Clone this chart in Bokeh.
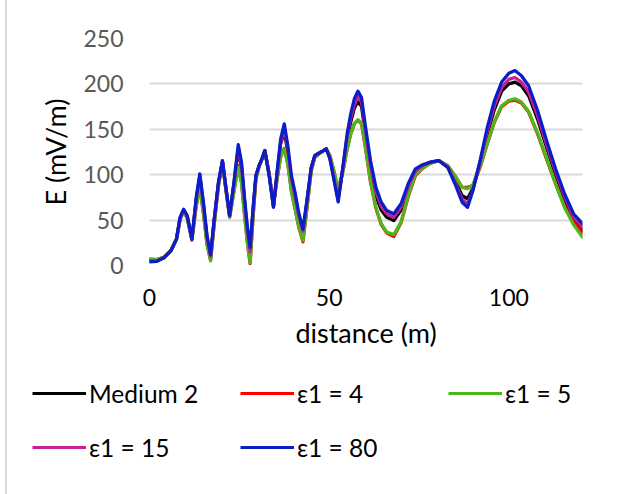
from bokeh.plotting import figure
from bokeh.models import Range1d, FixedTicker, Legend, LegendItem, Spacer
from bokeh.layouts import row, column
from bokeh.embed import file_html
from bokeh.resources import INLINE

# ---------------- data ----------------
distance = [0, 2, 4, 6, 7.5, 8.5, 9.5, 10.5, 11.8, 13, 14, 15, 16, 17, 18, 19.2, 20.3, 21.3,
            22.3, 23.5, 24.7, 25.6, 26.4, 27.2, 28, 28.8, 29.6, 30.5, 31.3, 32.1, 33.3, 34.5,
            35.5, 36.5, 37.5, 38.5, 39.5, 40.5, 41.5, 42.7, 43.8, 45, 46, 47.2, 48.2, 49.2,
            50.2, 51.2, 52.5, 53.8, 55, 56, 57, 58, 59, 60, 61.5, 63, 64.5, 66, 68, 70, 72,
            74, 76, 78, 80.5, 83, 85, 87, 88.5, 90, 92, 94, 96, 98, 100, 101.7, 103.5, 105.5,
            108, 110.5, 113, 115.5, 118, 120.5]

eps80 = [4, 4.5, 8.5, 16.5, 29, 53, 62, 55, 29, 75, 101, 70, 33, 12, 51, 92, 115.6, 84.5,
         55, 92, 133, 114, 77, 44, 20, 62, 99, 110, 117.5, 126.7, 99, 64,
         103, 139.5, 156, 132, 99, 80.7, 58.7, 40, 71.6, 108, 121, 123.7, 126, 128.5,
         117.5, 97, 70, 108, 145, 167, 183.6, 192, 185, 156, 115.6, 86, 69.7, 60.6, 57, 68, 90,
         106.5, 111, 113.8, 115.6, 108, 90, 69.7, 64, 82.6, 115.6, 152, 181.7, 202, 211.7, 214.7, 209, 198,
         170.7, 137.7, 106.5, 79, 57, 46]

eps15 = [5, 5, 8.5, 16.5, 29, 52, 61, 54, 29, 73, 99, 68, 31, 10, 50, 91, 115, 84,
         55, 90, 130, 110, 73, 40, 15, 60, 98, 110, 117.5, 126.5, 100, 65,
         101, 136, 150.5, 128, 95, 77, 56, 38, 70, 107, 121, 124, 126, 128.5,
         118, 99, 72, 107, 142, 162, 177, 186, 180, 151, 110, 81, 65, 57, 53, 64, 87,
         104, 110, 113.5, 115.6, 108.5, 92, 73, 68, 83, 114, 148, 176, 196, 205, 207, 202, 191,
         165, 133, 103, 76, 54, 42]

medium2 = [5, 5, 8.5, 16.5, 29, 52, 61, 54, 29, 72, 97, 66, 30, 9, 49, 91, 115, 84,
           55, 89, 128, 108, 71, 38, 14, 59, 98, 110, 117.5, 126.5, 100, 65,
           100, 134, 147, 125, 92, 74, 54, 36, 69, 107, 121, 124, 126, 128.5,
           119, 101, 74, 106, 139, 158, 173, 181, 175, 147, 106, 77, 61, 53, 49.5, 61, 85,
           103, 109, 113, 115.6, 109, 94, 77, 73.5, 85, 113, 145, 172, 192, 200, 202, 198, 187,
           161, 130, 100, 73, 52, 38.5]

eps4 = [7, 6.5, 9, 17, 29, 50, 60, 52, 28, 65, 87, 58, 24, 6, 45, 88, 113, 82,
        53, 82, 110, 92, 58, 27, 2, 52, 95, 109, 117, 126, 101, 67,
        95, 120, 129, 112, 82, 63, 43, 26, 62, 104, 119, 123, 126, 128,
        121, 106, 83, 103, 128, 145, 156, 160, 156, 132, 92, 63, 45, 36, 32, 47, 76,
        99, 107, 112.5, 115.5, 110, 99, 86, 86, 88, 108, 134, 158, 175, 181, 182, 179, 169,
        145, 117, 90, 65, 48, 35.6]

eps5 = [7, 6.5, 9, 17, 29, 50, 60, 52, 29, 66, 86, 57, 23, 5, 45, 88, 113, 82,
        53, 81, 108, 90, 57, 26, 3, 52, 95, 109, 117, 126, 101, 67,
        95, 119, 128.5, 111, 81, 62, 44, 27.5, 63, 104, 119, 123, 126, 128,
        121, 106, 84.5, 103, 128, 145, 156, 160.5, 157, 133, 93, 64, 46, 37, 34, 48, 77,
        100, 107, 112.5, 115.5, 110, 99, 86, 84.5, 89, 109, 134, 159, 176, 182, 183.6, 180, 170,
        146, 118, 90, 64, 45, 31]

series_names = ["Medium 2", "ε1 = 4", "ε1 = 5", "ε1 = 15", "ε1 = 80"]
series_values = [medium2, eps4, eps5, eps15, eps80]
series_colors = ["#000000", "#ff0000", "#4cb81a", "#c81e96", "#0a1ec8"]

y_ticks = [0, 50, 100, 150, 200, 250]
x_ticks = [0, 50, 100]

FONT = "Lato"
OFFSET = 7          # page x where the figures start (after the left chart border)
MAIN_H = 360
LEG_H = 494 - MAIN_H
FIG_W = 627 - OFFSET

# ---------------- main chart ----------------
p = figure(width=FIG_W, height=MAIN_H, output_backend="svg", toolbar_location=None,
           x_range=Range1d(0, 120.5), y_range=Range1d(0, 250),
           min_border_left=149 - OFFSET, min_border_right=45, min_border_top=38,
           min_border_bottom=MAIN_H - 265, margin=0, frame_align=False)
p.outline_line_color = None
p.background_fill_color = "white"
p.border_fill_color = "white"

for vals, col in zip(series_values, series_colors):
    p.line(distance, vals, line_color=col, line_width=3.25, line_join="round", line_cap="round")

p.xgrid.visible = False
p.ygrid.ticker = FixedTicker(ticks=y_ticks)
p.ygrid.grid_line_color = "#d9d9d9"
p.ygrid.grid_line_width = 2

p.yaxis.ticker = FixedTicker(ticks=y_ticks)
p.xaxis.ticker = FixedTicker(ticks=x_ticks)
for ax in (p.xaxis[0], p.yaxis[0]):
    ax.axis_line_color = None
    ax.major_tick_line_color = None
    ax.minor_tick_line_color = None
    ax.major_tick_in = 0
    ax.major_tick_out = 0
    ax.minor_tick_in = 0
    ax.minor_tick_out = 0
    ax.major_label_text_font = FONT
    ax.axis_label_text_font = FONT
    ax.axis_label_text_font_style = "normal"
    ax.major_label_text_font_size = "23px"
    ax.axis_label_text_font_size = "27px"

p.yaxis.major_label_text_color = "#595959"
p.yaxis.axis_label = "E (mV/m)"
p.yaxis.axis_label_text_color = "#000000"
p.yaxis.major_label_standoff = 26
p.yaxis.axis_label_standoff = 8

p.xaxis.major_label_text_color = "#000000"
p.xaxis.axis_label = "distance (m)"
p.xaxis.axis_label_text_color = "#000000"
p.xaxis.major_label_standoff = 23
p.xaxis.axis_label_standoff = 7

# ---------------- legend strip ----------------
q = figure(width=FIG_W, height=LEG_H, output_backend="svg", toolbar_location=None,
           x_range=Range1d(0, 1), y_range=Range1d(0, 1),
           x_axis_location=None, y_axis_location=None,
           min_border_left=0, min_border_right=0, min_border_top=0, min_border_bottom=0,
           margin=0, frame_align=False)
q.grid.visible = False
q.outline_line_color = None
q.background_fill_color = "white"
q.border_fill_color = "white"

items = []
for name, col in zip(series_names, series_colors):
    # renderer kept outside the visible range: only its legend glyph is seen
    r = q.line(x=[5, 6], y=[5, 5], line_color=col, line_width=3)
    items.append(LegendItem(label=name, renderers=[r]))

legend = Legend(items=items, orientation="horizontal", ncols=3,
                location=(32 - OFFSET, LEG_H - (366 - MAIN_H) - 108),
                glyph_width=54, glyph_height=54, label_height=54, label_width=151,
                label_standoff=3, spacing=0, padding=0, margin=0,
                border_line_alpha=0, background_fill_alpha=0,
                label_text_font=FONT, label_text_font_size="24.5px", label_text_color="#000000")
q.add_layout(legend, "center")

# left edge of the chart area (light grey border)
edge = Spacer(width=2, height=494, margin=(0, 0, 0, 5),
              styles={"background-color": "#d9d9d9", "background": "#d9d9d9",
                      "flex-shrink": "0", "min-width": "2px", "min-height": "494px"})
layout = row(edge, column(p, q, spacing=0, margin=0), spacing=0, margin=0)

open("out.html", "w").write(file_html(layout, INLINE))
